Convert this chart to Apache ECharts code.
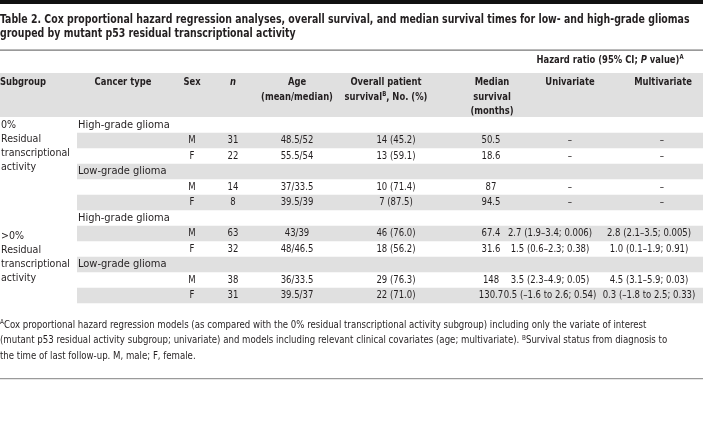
<!DOCTYPE html>
<html>
<head>
<meta charset="utf-8">
<script src="https://cdn.jsdelivr.net/npm/echarts@6/dist/echarts.min.js"></script>
<style>
html,body{margin:0;padding:0;background:#fff;}
#main{width:703px;height:436px;}
</style>
</head>
<body>
<div id="main"></div>
<script>
// ---- data ----
const subgroups = ["0%\nResidual\ntranscriptional\nactivity", ">0%\nResidual\ntranscriptional\nactivity"];
const cancerTypes = ["High-grade glioma","","","Low-grade glioma","","","High-grade glioma","","","Low-grade glioma","",""];
const sexes = ["","M","F","","M","F","","M","F","","M","F"];
const counts = [null,31,22,null,14,8,null,63,32,null,38,31];
const ages = ["","48.5/52","55.5/54","","37/33.5","39.5/39","","43/39","48/46.5","","36/33.5","39.5/37"];
const survivals = ["","14 (45.2)","13 (59.1)","","10 (71.4)","7 (87.5)","","46 (76.0)","18 (56.2)","","29 (76.3)","22 (71.0)"];
const medianSurvival = [null,50.5,18.6,null,87,94.5,null,67.4,31.6,null,148,130.7];
const univariate = ["","–","–","","–","–","","2.7 (1.9–3.4; 0.006)","1.5 (0.6–2.3; 0.38)","","3.5 (2.3–4.9; 0.05)","0.5 (–1.6 to 2.6; 0.54)"];
const multivariate = ["","–","–","","–","–","","2.8 (2.1–3.5; 0.005)","1.0 (0.1–1.9; 0.91)","","4.5 (3.1–5.9; 0.03)","0.3 (–1.8 to 2.5; 0.33)"];
const titleLines = [
  "Table 2. Cox proportional hazard regression analyses, overall survival, and median survival times for low- and high-grade gliomas",
  "grouped by mutant p53 residual transcriptional activity"
];
const footLines = [
  "{sup|A}{t|Cox proportional hazard regression models (as compared with the 0% residual transcriptional activity subgroup) including only the variate of interest}",
  "{t|(mutant p53 residual activity subgroup; univariate) and models including relevant clinical covariates (age; multivariate). }{sup|B}{t|Survival status from diagnosis to}",
  "{t|the time of last follow-up. M, male; F, female.}"
];

// ---- layout / style ----
const FONT = '"DejaVu Sans Condensed", "DejaVu Sans", sans-serif';
const TXT = '#231f20';
const BAND = '#e0e0e0';
const W = 703;
const nRows = cancerTypes.length;
const gridTop = 117.25, rowH = 15.5;
const col = {band: 77, cancer: 78, sex: 192, n: 233, age: 297, surv: 396, med: 491,
             uni: 550, uniDash: 570, multi: 649, multiDash: 662};
const subgroupStartRow = [0, 7.2];
const SX_DATA = 0.86, SX_HEAD = 0.85, SX_TITLE = 0.835, SX_FOOT = 0.91;

function txt(x, y, s, align, sx) {
  return {
    type: 'text', x: x, y: y, scaleX: sx || 1,
    style: {text: s, fill: TXT, font: '11px ' + FONT, align: align || 'center', verticalAlign: 'middle'}
  };
}

const rowData = cancerTypes.map((c, i) => [i]);

function renderRow(params, api) {
  const i = api.value(0);
  const top = api.coord([0, i])[1];
  const bot = api.coord([0, i + 1])[1];
  const yc = (top + bot) / 2;
  const X = v => api.coord([v, 0])[0];
  const children = [];
  if (i % 2 === 1) {
    children.push({type: 'rect', shape: {x: X(col.band), y: top, width: X(W) - X(col.band), height: bot - top},
      style: {fill: BAND}, silent: true});
  }
  const cell = (x, s, align, sx) => { if (s !== '' && s != null) children.push(txt(X(x), yc, String(s), align, sx)); };
  cell(col.cancer, cancerTypes[i], 'left', 1);
  cell(col.sex, sexes[i], 'center', SX_DATA);
  cell(col.n, counts[i], 'center', SX_DATA);
  cell(col.age, ages[i], 'center', SX_DATA);
  cell(col.surv, survivals[i], 'center', SX_DATA);
  cell(col.med, medianSurvival[i], 'center', SX_DATA);
  cell(univariate[i] === '–' ? col.uniDash : col.uni, univariate[i], 'center', SX_DATA);
  cell(multivariate[i] === '–' ? col.multiDash : col.multi, multivariate[i], 'center', SX_DATA);
  return {type: 'group', children: children};
}

function renderSub(params, api) {
  const g = api.value(0);
  const yc = api.coord([0, subgroupStartRow[g] + 0.5])[1];
  return {type: 'text', x: api.coord([1, 0])[0], y: yc - 7, scaleX: 0.96,
    style: {text: subgroups[g], fill: TXT, font: '11px ' + FONT, lineHeight: 14, align: 'left', verticalAlign: 'top'}};
}

const bold = 'bold 11px ' + FONT;
function head(x, y, s, opts) {
  return {type: 'text', x: x, y: y, scaleX: SX_HEAD, style: Object.assign(
    {text: s, font: bold, fill: TXT, align: 'center', verticalAlign: 'middle'}, opts || {})};
}
const graphics = [
  {type: 'rect', shape: {x: 0, y: 0, width: W, height: 4}, style: {fill: '#111'}},
  {type: 'text', x: 0, y: 20, scaleX: SX_TITLE, style: {text: titleLines[0], font: 'bold 12.5px ' + FONT, fill: TXT, verticalAlign: 'middle'}},
  {type: 'text', x: 0, y: 34, scaleX: SX_TITLE, style: {text: titleLines[1], font: 'bold 12.5px ' + FONT, fill: TXT, verticalAlign: 'middle'}},
  {type: 'rect', shape: {x: 0, y: 49.5, width: W, height: 1.2}, style: {fill: '#777'}},
  {type: 'rect', shape: {x: 0, y: 73, width: W, height: 44}, style: {fill: BAND}},
  head(610, 60, '{b|Hazard ratio (95% CI; }{bi|P}{b| value)}{sup|A}', {
    rich: {b: {font: bold, fill: TXT}, bi: {font: 'italic ' + bold, fill: TXT},
           sup: {font: 'bold 7px ' + FONT, fill: TXT, padding: [0, 0, 5, 0]}}}),
  head(0, 82, 'Subgroup', {align: 'left'}),
  head(123, 82, 'Cancer type'),
  head(192, 82, 'Sex'),
  head(233, 82, 'n', {font: 'italic ' + bold}),
  head(297, 75, 'Age\n(mean/median)', {lineHeight: 15, verticalAlign: 'top'}),
  head(386, 82, 'Overall patient'),
  head(386, 97, '{b|survival}{sup|B}{b|, No. (%)}', {
    rich: {b: {font: bold, fill: TXT}, sup: {font: 'bold 7px ' + FONT, fill: TXT, padding: [0, 0, 5, 0]}}}),
  head(492, 75, 'Median\nsurvival\n(months)', {lineHeight: 14.5, verticalAlign: 'top'}),
  head(570, 82, 'Univariate'),
  head(663, 82, 'Multivariate'),
  {type: 'rect', shape: {x: 0, y: 378, width: W, height: 1.2}, style: {fill: '#9a9a9a'}}
];
footLines.forEach((l, k) => {
  graphics.push({type: 'text', x: 0, y: 325 + k * 15.5, scaleX: SX_FOOT, style: {
    text: l, verticalAlign: 'middle',
    rich: {t: {font: '10.5px ' + FONT, fill: TXT}, sup: {font: '7px ' + FONT, fill: TXT, padding: [0, 0, 5, 0]}}}});
});

const chart = echarts.init(document.getElementById('main'), null, {renderer: 'canvas'});
chart.setOption({
  backgroundColor: '#fff',
  animation: false,
  grid: {left: 0, right: 0, top: gridTop, height: nRows * rowH},
  xAxis: {type: 'value', min: 0, max: W, show: false},
  yAxis: {type: 'value', min: 0, max: nRows, inverse: true, show: false},
  graphic: graphics,
  series: [
    {type: 'custom', renderItem: renderRow, data: rowData, encode: {y: 0}, z: 2},
    {type: 'custom', renderItem: renderSub, data: [[0], [1]], encode: {y: 0}, z: 3}
  ]
});
</script>
</body>
</html>
